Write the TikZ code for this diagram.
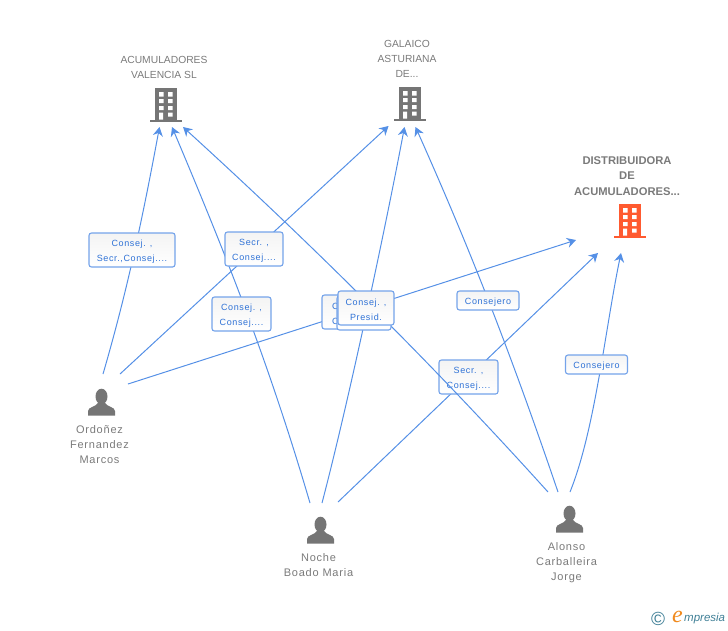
\documentclass[tikz,border=0pt]{standalone}
\usepackage{fontspec}
\setmainfont{Liberation Sans}
\newfontfamily\lblfont[LetterSpace=7]{Liberation Sans}
\newfontfamily\logoserif{Liberation Serif}
\usetikzlibrary{arrows.meta}
\definecolor{edgeblue}{HTML}{5590E6}
\definecolor{boxblue}{HTML}{74A3EA}
\definecolor{lbltext}{HTML}{2F72D6}
\definecolor{icongray}{HTML}{757575}
\definecolor{textgray}{HTML}{7A7A7A}
\definecolor{iconorange}{HTML}{FF5A30}
\definecolor{logoteal}{HTML}{3F7F96}
\definecolor{logoorange}{HTML}{F08A1E}
\newcommand{\st}{\rule{0pt}{10.5pt}}
\tikzset{
  x=1pt,y=-1pt,
  edge/.style={draw=edgeblue,line width=1pt,-{Stealth[length=9pt,width=10pt,inset=3pt]}},
  lbl/.style={draw=boxblue,line width=1.1pt,rounded corners=2.5pt,top color=gray!9,bottom color=white,
    font=\lblfont\fontsize{9}{15}\selectfont,text=lbltext,align=center,inner sep=0pt},
  iconspot/.style={inner sep=0pt,minimum width=32pt,minimum height=34pt},
  captxt/.style={font=\fontsize{10.3}{15}\selectfont,text=textgray,align=center,inner sep=0pt},
  capbold/.style={font=\bfseries\fontsize{11.2}{15.5}\selectfont,text=textgray,align=center,inner sep=0pt},
  capperson/.style={font=\lblfont\fontsize{11}{15}\selectfont,text=textgray,align=center,inner sep=0pt},
}
\newcommand{\bldgicon}[4]{% name, left x of base, top y, colour
  \node[iconspot,anchor=north west] (#1) at (#2,#3) {};
  \begin{scope}[shift={(#2,#3)}]
    \fill[#4] (5,0) rectangle (27,31.5);
    \fill[#4] (0,31.5) rectangle (32,34);
    \fill[white] (9,4) rectangle (13.5,8.5) (18,4) rectangle (22.5,8.5)
                 (9,11) rectangle (13.5,15) (18,11) rectangle (22.5,15)
                 (9,18) rectangle (13.5,22) (18,18) rectangle (22.5,22)
                 (9,24.5) rectangle (13,31.5) (18,24.5) rectangle (22.5,28.5);
  \end{scope}}
\newcommand{\personicon}[3]{% name, centre x, top y
  \node[inner sep=0pt,minimum width=28pt,minimum height=27pt,anchor=north] (#1) at (#2,#3) {};
  \begin{scope}[shift={(#2,#3)}]
    \fill[icongray] (0,7.5) ellipse [x radius=6, y radius=7.8];
    \fill[icongray] (-13.5,26.5) -- (-13.5,22) .. controls (-13.5,18) and (-6,18) .. (-3.5,14)
      -- (3.5,14) .. controls (6,18) and (13.5,18) .. (13.5,22) -- (13.5,26.5) -- cycle;
  \end{scope}}
\begin{document}
\begin{tikzpicture}
\useasboundingbox (0,0) rectangle (728,630);
% icons
\bldgicon{acum}{150}{88}{icongray}
\bldgicon{gala}{394}{87}{icongray}
\bldgicon{dist}{614}{204}{iconorange}
\personicon{ord}{101.5}{389}
\personicon{noc}{320.5}{517}
\personicon{alo}{569.5}{506}
% captions
\node[captxt] (tacum) at (164,67.3) {ACUMULADORES\\VALENCIA SL};
\node[captxt] (tgala) at (407,59) {GALAICO\\ASTURIANA\\DE...};
\node[capbold] (tdist) at (627,176) {DISTRIBUIDORA\\DE\\ACUMULADORES...};
\node[capperson] (tord) at (99.5,444.5) {Ordoñez\\Fernandez\\Marcos};
\node[capperson] (tnoc) at (318.5,565) {Noche\\Boado Maria};
\node[capperson] (talo) at (566.5,562.5) {Alonso\\Carballeira\\Jorge};
% connector ports
\coordinate (oA) at (103,374); \coordinate (oG) at (120,374); \coordinate (oD) at (128,384);
\coordinate (nA) at (310,503); \coordinate (nG) at (322,503); \coordinate (nD) at (338,502);
\coordinate (aA) at (548,492); \coordinate (aG) at (558,492); \coordinate (aD) at (570,492);
\coordinate (Ao) at (159.5,127); \coordinate (An) at (172,127); \coordinate (Aa) at (183,127);
\coordinate (Go) at (388.5,126); \coordinate (Gn) at (404.5,127); \coordinate (Ga) at (415.5,127);
\coordinate (Do) at (576,240); \coordinate (Dn) at (598,253); \coordinate (Da) at (621,253);
% connectors
\draw[edge] (oA) .. controls (129,285) and (145,205) .. (Ao);
\draw[edge] (oG) -- (Go);
\draw[edge] (oD) -- (Do);
\draw[edge] (nA) .. controls (268,360) and (224,250) .. (An);
\draw[edge] (nG) .. controls (349,400) and (386,225) .. (Gn);
\draw[edge] (nD) -- (Dn);
\draw[edge] (aG) .. controls (508,345) and (466,240) .. (Ga);
\draw[edge] (aD) .. controls (595,430) and (605,330) .. (Da);
% labels under the last connector
\node[lbl,minimum width=59pt,minimum height=34pt] (l8) at (468.5,377) {\st Secr. ,\\Consej....};
\draw[edge] (aA) .. controls (438,370) and (317,249) .. (Aa);
% labels
\node[lbl,minimum width=86pt,minimum height=34pt] (l1) at (132,250) {\st Consej. ,\\Secr.,Consej....};
\node[lbl,minimum width=58pt,minimum height=34pt] (l2) at (254,249) {\st Secr. ,\\Consej....};
\node[lbl,minimum width=59pt,minimum height=34pt] (l3) at (241.5,314) {\st Consej. ,\\Consej....};
\node[lbl,minimum height=34pt,align=left,text width=38pt,inner xsep=10pt] (l4) at (351,312) {\st C\\C};
\node[lbl,minimum width=54pt,minimum height=34pt] (l5) at (364,313) {};
\node[lbl,minimum width=56pt,minimum height=34pt] (l6) at (366,308) {\st Consej. ,\\Presid.};
\node[lbl,minimum width=62pt,minimum height=19pt] (l7) at (488,300.5) {\st Consejero};
\node[lbl,minimum width=62pt,minimum height=19pt] (l9) at (596.5,364.5) {\st Consejero};
% logo
\node[inner sep=0pt,text=logoteal,font=\fontsize{19}{19}\selectfont] (c) at (658,619) {©};
\node[inner sep=0pt,text=logoorange,font=\logoserif\itshape\fontsize{24}{24}\selectfont] (e) at (677.5,616.5) {e};
\node[inner sep=0pt,text=logoteal,font=\itshape\fontsize{11.5}{12}\selectfont,anchor=west] (m) at (684,619) {mpresia};
\end{tikzpicture}
\end{document}
